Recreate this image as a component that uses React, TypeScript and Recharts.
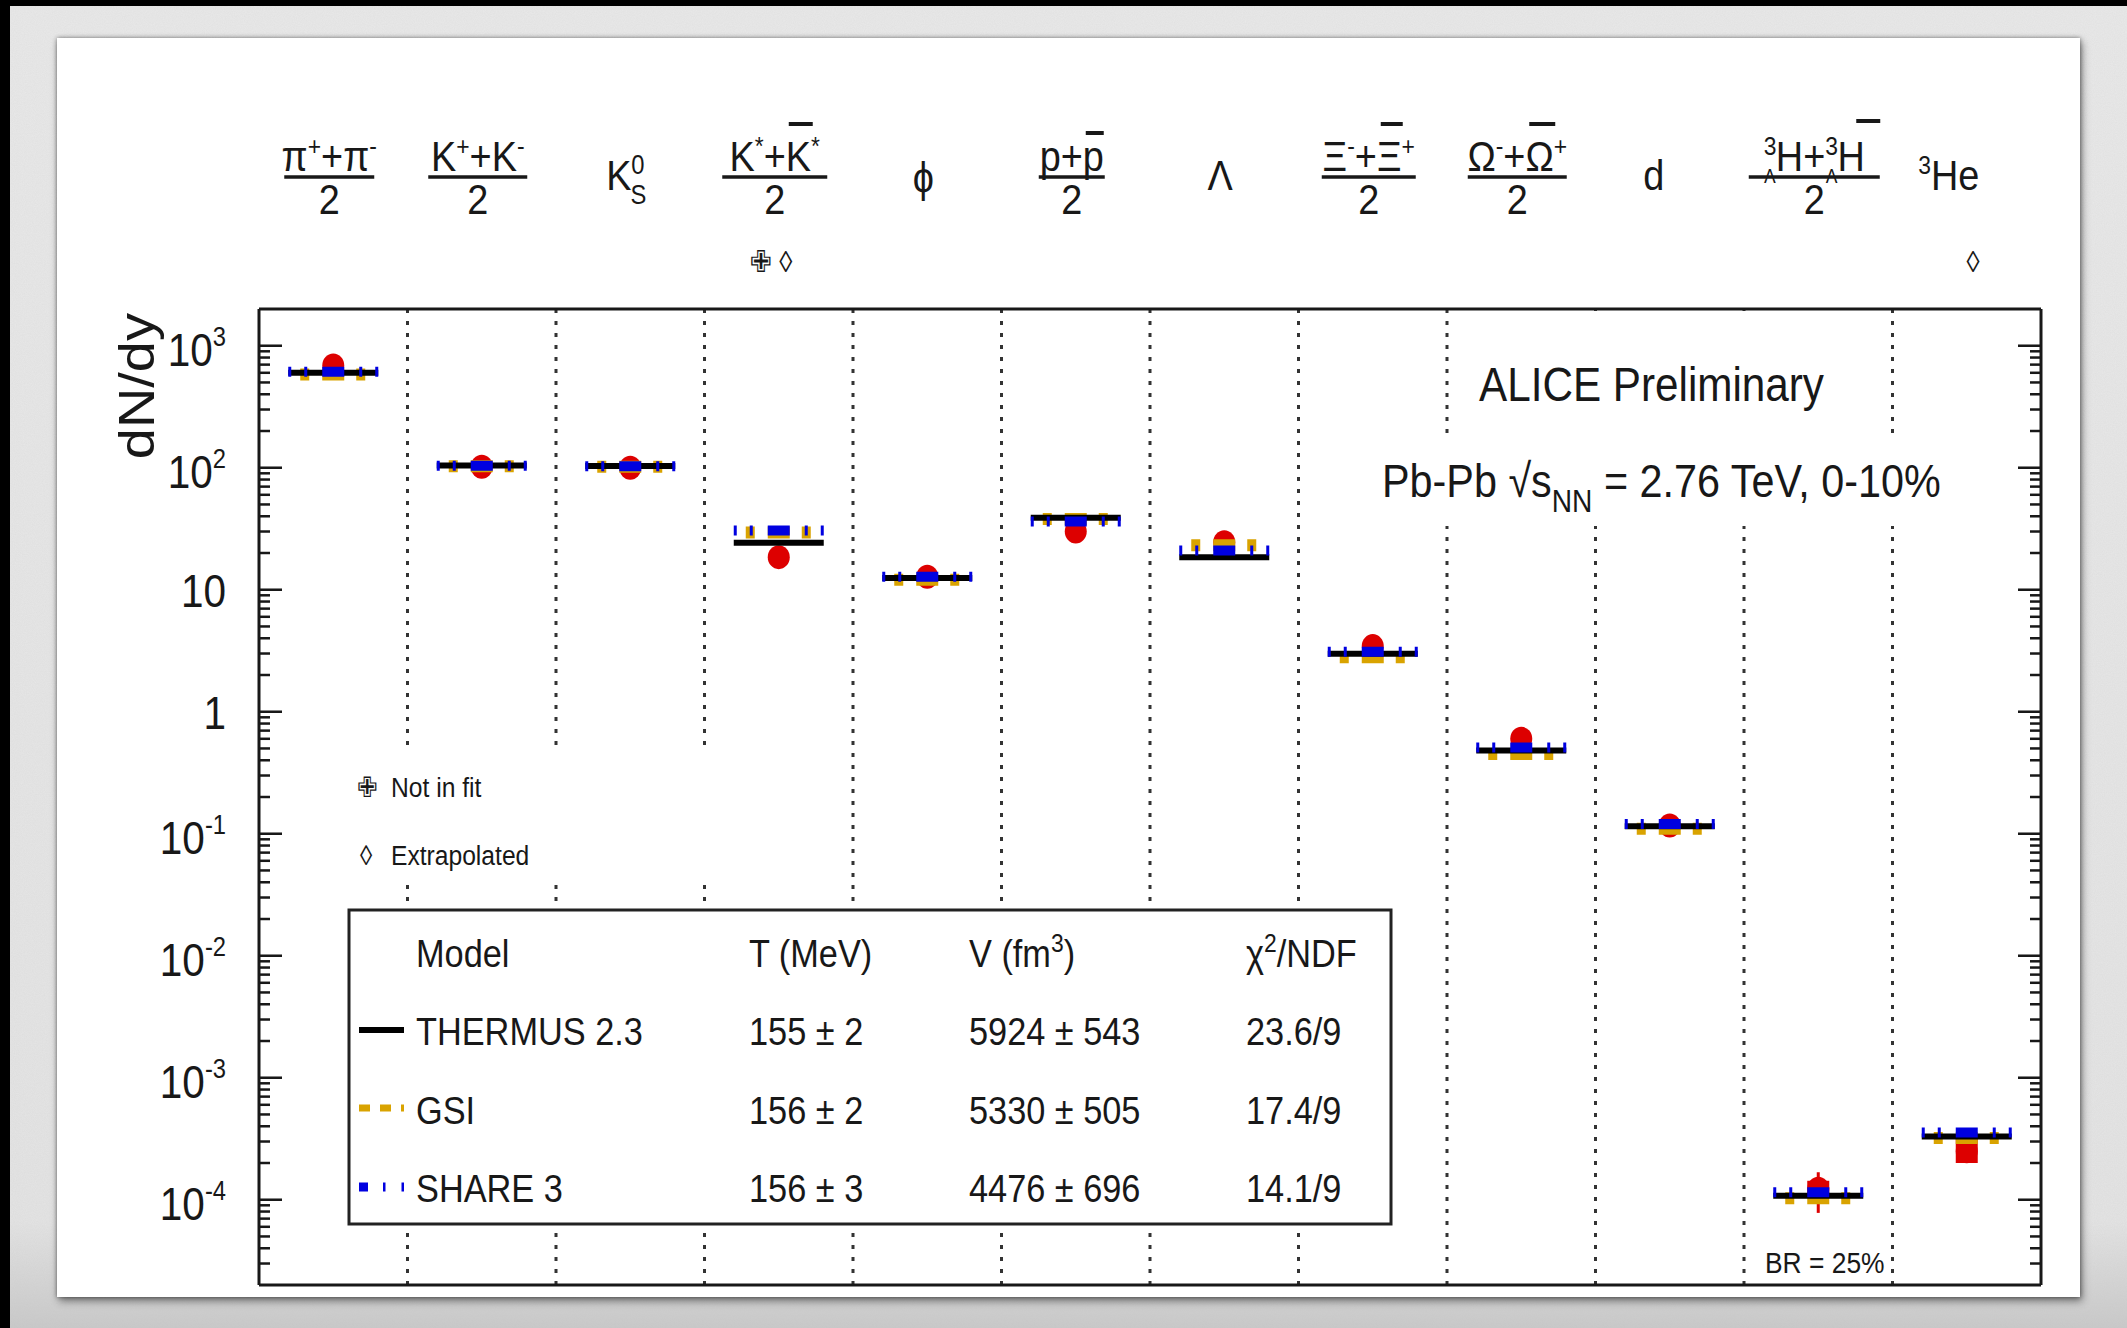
import React from "react";
import { ComposedChart, Scatter, XAxis, YAxis, ReferenceLine, ErrorBar } from "recharts";

const W = 2127;
const H = 1328;
const FONT = "'Liberation Sans', Arial, Helvetica, 'DejaVu Sans', sans-serif";
const SQ = 0.88; // horizontal squeeze of all lettering
const INK = "#181818";
const RED = "#dd0000";
const GOLD = "#d9a300";
const BLUE = "#0000e0";
const LBL = 43; // species label size

// particle species, one column each
const categories = ["pi", "K", "K0s", "Kstar", "phi", "p", "Lambda", "Xi", "Omega", "d", "hypertriton", "He3"];

// measured dN/dy and uncertainties
const measured = [690, 102, 100, 18.5, 12.8, 30, 24.5, 3.45, 0.6, 0.117, 1.23e-4, 2.5e-4];
const statErr = [0, 0, 0, 0, 0, 0, 0, 0, 0, 0, 0.45e-4, 0];
const sysLow = [0, 0, 0, 0, 0, 0, 0, 0, 0, 0, 0.2e-4, 0.5e-4];
const sysHigh = [0, 0, 0, 0, 0, 0, 0, 0, 0, 0, 0.2e-4, 0.7e-4];

// thermal model yields
const thermus = [600, 104.5, 103.5, 24.3, 12.5, 38.9, 18.5, 2.99, 0.482, 0.115, 1.08e-4, 3.3e-4];
const gsi = [580, 103, 102, 29.5, 12.1, 38, 23.1, 2.8, 0.45, 0.11, 1.03e-4, 3.2e-4];
const share = [612, 104, 103, 30.6, 12.8, 36.3, 21, 3.1, 0.51, 0.12, 1.15e-4, 3.55e-4];

// fit summary table
const modelNames = ["THERMUS 2.3", "GSI", "SHARE 3"];
const modelT = ["155 ± 2", "156 ± 2", "156 ± 3"];
const modelV = ["5924 ± 543", "5330 ± 505", "4476 ± 696"];
const modelChi = ["23.6/9", "17.4/9", "14.1/9"];

// axis ticks
const yDomain = [2e-5, 2000];
const yDecades = [1e-5, 1e-4, 1e-3, 1e-2, 1e-1, 1, 10, 100, 1000];
const minorSteps = [2, 3, 4, 5, 6, 7, 8, 9];
const yTicks = yDecades
  .flatMap((d) => [d, ...minorSteps.map((m) => m * d)])
  .filter((v) => v > yDomain[0] * 1.01 && v < yDomain[1] * 0.99);
const centers = categories.map((_, i) => i + 0.5);
const boundaries = [1, 2, 3, 4, 5, 6, 7, 8, 9, 10, 11];

const pts = (vals: number[]) => vals.map((y, i) => ({ x: i + 0.5, y }));
const measuredPts = measured.map((y, i) => ({
  x: i + 0.5,
  y,
  stat: [statErr[i], statErr[i]],
  sys: [sysLow[i], sysHigh[i]],
}));

const isMajor = (v: number) => Math.abs(Math.log10(v) - Math.round(Math.log10(v))) < 1e-6;

function Txt({ x, y, size, anchor = "start", children }: any) {
  return (
    <text
      transform={`translate(${x} ${y}) scale(${SQ} 1)`}
      fontSize={size}
      textAnchor={anchor}
      fill={INK}
      fontFamily={FONT}
    >
      {children}
    </text>
  );
}

function Sup({ children, size = 26, up = 16 }: any) {
  return (
    <tspan dy={-up} fontSize={size}>
      {children}
    </tspan>
  );
}

// numerator / 2 labels above the frame
function Frac({ cx, bar, num, over = [] }: any) {
  return (
    <g>
      <Txt x={cx} y={171} size={LBL} anchor="middle">
        {num}
      </Txt>
      <line x1={cx - bar / 2} x2={cx + bar / 2} y1={177} y2={177} stroke={INK} strokeWidth={3.5} />
      <Txt x={cx} y={214} size={LBL} anchor="middle">
        2
      </Txt>
      {over.map(([dx, w, y]: number[], k: number) => (
        <line key={k} x1={cx + dx} x2={cx + dx + w} y1={y} y2={y} stroke={INK} strokeWidth={4} />
      ))}
    </g>
  );
}

const catLabels: ((cx: number) => React.ReactNode)[] = [
  (cx) => (
    <Frac
      cx={cx}
      bar={90}
      num={
        <>
          π<Sup>+</Sup>
          <tspan dy={16}>+π</tspan>
          <Sup>-</Sup>
        </>
      }
    />
  ),
  (cx) => (
    <Frac
      cx={cx}
      bar={99}
      num={
        <>
          K<Sup>+</Sup>
          <tspan dy={16}>+K</tspan>
          <Sup>-</Sup>
        </>
      }
    />
  ),
  (cx) => (
    <Txt x={cx} y={190} size={LBL} anchor="middle">
      K<Sup size={27}>0</Sup>
      <tspan dx={-16} dy={30} fontSize={27}>
        S
      </tspan>
    </Txt>
  ),
  (cx) => (
    <Frac
      cx={cx}
      bar={105}
      over={[[14, 24, 124]]}
      num={
        <>
          K<Sup>*</Sup>
          <tspan dy={16}>+K</tspan>
          <Sup>*</Sup>
        </>
      }
    />
  ),
  (cx) => (
    <Txt x={cx} y={192} size={LBL} anchor="middle">
      ϕ
    </Txt>
  ),
  (cx) => <Frac cx={cx} bar={66} over={[[14, 18, 133]]} num={<>p+p</>} />,
  (cx) => (
    <Txt x={cx} y={190} size={LBL} anchor="middle">
      Λ
    </Txt>
  ),
  (cx) => (
    <Frac
      cx={cx}
      bar={94}
      over={[[12, 22, 124]]}
      num={
        <>
          Ξ<Sup>-</Sup>
          <tspan dy={16}>+Ξ</tspan>
          <Sup>+</Sup>
        </>
      }
    />
  ),
  (cx) => (
    <Frac
      cx={cx}
      bar={99}
      over={[[12, 26, 124]]}
      num={
        <>
          Ω<Sup>-</Sup>
          <tspan dy={16}>+Ω</tspan>
          <Sup>+</Sup>
        </>
      }
    />
  ),
  (cx) => (
    <Txt x={cx - 12} y={190} size={LBL} anchor="middle">
      d
    </Txt>
  ),
  (cx) => (
    <Frac
      cx={cx}
      bar={131}
      over={[[42, 24, 121]]}
      num={
        <>
          <tspan dy={-16} fontSize={26}>
            3
          </tspan>
          <tspan dx={-14} dy={28} fontSize={20}>
            Λ
          </tspan>
          <tspan dy={-12}>H+</tspan>
          <tspan dy={-16} fontSize={26}>
            3
          </tspan>
          <tspan dx={-14} dy={28} fontSize={20}>
            Λ
          </tspan>
          <tspan dy={-12}>H</tspan>
        </>
      }
    />
  ),
  (cx) => (
    <Txt x={cx - 14} y={190} size={LBL} anchor="middle">
      <Sup>3</Sup>
      <tspan dy={16}>He</tspan>
    </Txt>
  ),
];

function TopLabel(props: any) {
  const { x, payload } = props;
  const i = Math.round(payload.value - 0.5);
  return <g>{catLabels[i](x - 4)}</g>;
}

function LeftTick(props: any) {
  const { x, y, payload } = props;
  const v = payload.value;
  const major = isMajor(v);
  const e = Math.round(Math.log10(v));
  return (
    <g>
      <line x1={x} x2={x + (major ? 23 : 11)} y1={y} y2={y} stroke={INK} strokeWidth={2.5} />
      {major && (
        <Txt x={x - 33} y={y + (e === 0 || e === 1 ? 17 : 20)} size={46} anchor="end">
          {e === 0 ? "1" : "10"}
          {e !== 0 && e !== 1 && (
            <tspan dy={-20} fontSize={27}>
              {e < 0 ? `-${-e}` : e}
            </tspan>
          )}
        </Txt>
      )}
    </g>
  );
}

function RightTick(props: any) {
  const { x, y, payload } = props;
  const len = isMajor(payload.value) ? 23 : 11;
  return <line x1={x - len} x2={x} y1={y} y2={y} stroke={INK} strokeWidth={2.5} />;
}

function BottomTick(props: any) {
  const { x, y } = props;
  return <line x1={x} x2={x} y1={y} y2={y - 15} stroke={INK} strokeWidth={2.5} />;
}

// horizontal model segment centred on the category
const segment = (color: string, width: number, dash?: string) => (p: any) => (
  <line
    x1={p.cx - 45}
    x2={p.cx + 45}
    y1={p.cy}
    y2={p.cy}
    stroke={color}
    strokeWidth={width}
    strokeDasharray={dash}
  />
);

const dataDot = (p: any) => <ellipse cx={p.cx} cy={p.cy} rx={11} ry={12} fill={RED} />;

function Overlay() {
  return (
    <svg width={W} height={H} style={{ position: "absolute", left: 0, top: 0, pointerEvents: "none" }}>
      {/* white boxes behind the annotations */}
      <rect x={300} y={745} width={450} height={135} fill="#fff" />
      <rect x={1455} y={311} width={430} height={126} fill="#fff" />
      <rect x={1368} y={440} width={594} height={86} fill="#fff" />

      <text
        transform={`translate(154 313) rotate(-90) scale(1 ${SQ})`}
        fontSize={56}
        textAnchor="end"
        fill={INK}
        fontFamily={FONT}
      >
        dN/dy
      </text>

      <Txt x={1479} y={401} size={48}>
        ALICE Preliminary
      </Txt>
      <Txt x={1382} y={497} size={47}>
        Pb-Pb √s
        <tspan dy={15} fontSize={32}>
          NN
        </tspan>
        <tspan dy={-15}> = 2.76 TeV, 0-10%</tspan>
      </Txt>

      <Txt x={771} y={272} size={30} anchor="middle">
        ✙ ◊
      </Txt>
      <Txt x={1973} y={272} size={30} anchor="middle">
        ◊
      </Txt>

      <Txt x={357} y={797} size={28}>
        ✙
      </Txt>
      <Txt x={391} y={797} size={28}>
        Not in fit
      </Txt>
      <Txt x={360} y={865} size={28}>
        ◊
      </Txt>
      <Txt x={391} y={865} size={28}>
        Extrapolated
      </Txt>

      <Txt x={1765} y={1273} size={30}>
        BR = 25%
      </Txt>

      {/* fit summary box */}
      <rect x={349} y={910} width={1042} height={314} fill="#fff" stroke="#222" strokeWidth={3} />
      <Txt x={416} y={967} size={39}>
        Model
      </Txt>
      <Txt x={749} y={967} size={39}>
        T (MeV)
      </Txt>
      <Txt x={969} y={967} size={39}>
        V (fm<Sup size={26} up={15}>3</Sup>
        <tspan dy={15}>)</tspan>
      </Txt>
      <Txt x={1246} y={967} size={39}>
        χ<Sup size={26} up={15}>2</Sup>
        <tspan dy={15}>/NDF</tspan>
      </Txt>
      {modelNames.map((name, i) => {
        const y = 1045 + i * 78.5;
        return (
          <g key={name}>
            <Txt x={416} y={y} size={39}>
              {name}
            </Txt>
            <Txt x={749} y={y} size={39}>
              {modelT[i]}
            </Txt>
            <Txt x={969} y={y} size={39}>
              {modelV[i]}
            </Txt>
            <Txt x={1246} y={y} size={39}>
              {modelChi[i]}
            </Txt>
          </g>
        );
      })}
      <line x1={359} x2={404} y1={1030} y2={1030} stroke="#000" strokeWidth={6} />
      <line x1={359} x2={404} y1={1108} y2={1108} stroke={GOLD} strokeWidth={7} strokeDasharray="11 10" />
      <line
        x1={359}
        x2={404}
        y1={1187}
        y2={1187}
        stroke={BLUE}
        strokeWidth={9}
        strokeDasharray="9 15 2.5 16 2.5 100"
      />
    </svg>
  );
}

export default function App() {
  return (
    <div
      style={{
        position: "absolute",
        left: 0,
        top: 0,
        width: W,
        height: H,
        overflow: "hidden",
        background: "linear-gradient(180deg, #e9e9e9 0%, #e4e4e4 92%, #c9c9c9 100%)",
        fontFamily: FONT,
      }}
    >
      <svg width={W} height={H} style={{ position: "absolute", left: 0, top: 0 }}>
        <filter id="grain">
          <feTurbulence type="fractalNoise" baseFrequency="0.9" numOctaves={2} seed={3} />
          <feColorMatrix type="matrix" values="0 0 0 0 0.5  0 0 0 0 0.5  0 0 0 0 0.5  0 0 0 0.18 0" />
        </filter>
        <rect width={W} height={H} filter="url(#grain)" />
      </svg>
      <div style={{ position: "absolute", left: 0, top: 0, width: 10, height: H, background: "#000" }} />
      <div style={{ position: "absolute", left: 0, top: 0, width: W, height: 6, background: "#000" }} />
      <div
        style={{
          position: "absolute",
          left: 57,
          top: 38,
          width: 2080 - 57,
          height: 1297 - 38,
          background: "#fff",
          boxShadow: "0 0 4px rgba(0,0,0,0.45), 2px 4px 8px rgba(0,0,0,0.45)",
        }}
      />
      <div style={{ position: "absolute", left: 0, top: 0 }}>
        <ComposedChart
          width={W}
          height={H}
          margin={{ top: 308, left: 258, right: W - 2042, bottom: H - 1286 }}
        >
          <XAxis
            xAxisId="top"
            orientation="top"
            type="number"
            dataKey="x"
            domain={[0, 12]}
            ticks={centers}
            interval={0}
            height={1}
            tickSize={0}
            tickMargin={0}
            tickLine={false}
            tick={TopLabel}
            axisLine={{ stroke: INK, strokeWidth: 3 }}
            allowDataOverflow
          />
          <XAxis
            xAxisId="bot"
            orientation="bottom"
            type="number"
            domain={[0, 12]}
            ticks={boundaries}
            interval={0}
            height={1}
            tickSize={0}
            tickMargin={0}
            tickLine={false}
            tick={BottomTick}
            axisLine={{ stroke: INK, strokeWidth: 3 }}
            allowDataOverflow
          />
          <YAxis
            yAxisId="left"
            type="number"
            dataKey="y"
            scale="log"
            domain={yDomain}
            ticks={yTicks}
            interval={0}
            width={1}
            tickSize={0}
            tickMargin={0}
            tickLine={false}
            tick={LeftTick}
            axisLine={{ stroke: INK, strokeWidth: 3 }}
            allowDataOverflow
          />
          <YAxis
            yAxisId="right"
            orientation="right"
            type="number"
            scale="log"
            domain={yDomain}
            ticks={yTicks}
            interval={0}
            width={1}
            tickSize={0}
            tickMargin={0}
            tickLine={false}
            tick={RightTick}
            axisLine={{ stroke: INK, strokeWidth: 3 }}
            allowDataOverflow
          />
          {boundaries.map((b) => (
            <ReferenceLine
              key={b}
              x={b}
              xAxisId="top"
              yAxisId="left"
              stroke="#333"
              strokeWidth={3}
              strokeDasharray="4 8"
            />
          ))}
          <Scatter
            data={measuredPts}
            xAxisId="top"
            yAxisId="left"
            shape={dataDot}
            isAnimationActive={false}
          >
            <ErrorBar dataKey="sys" direction="y" width={0} stroke={RED} strokeWidth={22} />
            <ErrorBar dataKey="stat" direction="y" width={0} stroke={RED} strokeWidth={3} />
          </Scatter>
          <Scatter
            data={pts(gsi)}
            xAxisId="top"
            yAxisId="left"
            shape={segment(GOLD, 12, "0 12 9 13 22 12 9 13")}
            isAnimationActive={false}
          />
          <Scatter
            data={pts(thermus)}
            xAxisId="top"
            yAxisId="left"
            shape={segment("#000", 6)}
            isAnimationActive={false}
          />
          <Scatter
            data={pts(share)}
            xAxisId="top"
            yAxisId="left"
            shape={segment(BLUE, 10, "3 13 3 15 22 15 3 13 3")}
            isAnimationActive={false}
          />
        </ComposedChart>
      </div>
      <Overlay />
    </div>
  );
}
